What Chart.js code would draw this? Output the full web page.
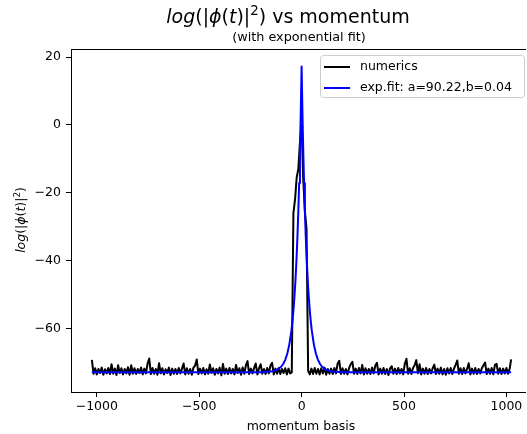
<!DOCTYPE html>
<html>
<head>
<meta charset="utf-8">
<script src="https://cdn.jsdelivr.net/npm/chart.js@4.4.1/dist/chart.umd.min.js"></script>
<style>
  html, body { margin: 0; padding: 0; background: #fff; overflow: hidden; }
  #clip { position: relative; width: 526px; height: 434px; overflow: hidden; }
  #wrap { position: absolute; left: 0; top: 0; width: 540px; height: 434px; }
</style>
</head>
<body>
<div id="clip"><div id="wrap"><canvas id="momentumChart"></canvas></div></div>
<script>
// numerics sampled every 8 momentum units from -1024, last point at 1023
const numericsY = [
  -69.3, -73.4, -71.8, -73.6, -72.0, -73.2, -71.6, -73.7, -72.1, -73.3,
  -71.7, -73.5, -70.6, -73.4, -71.9, -73.8, -70.9, -73.2, -71.8, -73.6,
  -72.0, -73.3, -71.5, -73.7, -70.9, -73.4, -71.8, -73.5, -72.0, -73.2,
  -71.6, -73.6, -71.9, -73.3, -70.4, -68.9, -73.5, -71.7, -73.4, -72.0,
  -73.7, -70.3, -73.3, -71.8, -73.6, -72.1, -73.2, -71.6, -73.8, -71.9,
  -73.4, -72.0, -73.5, -71.7, -73.3, -71.9, -70.4, -73.6, -71.8, -73.4,
  -72.0, -73.7, -71.6, -71.0, -69.2, -73.5, -71.9, -73.3, -71.7, -73.6,
  -72.1, -73.4, -70.7, -73.2, -71.8, -73.7, -72.0, -73.3, -71.6, -73.9,
  -70.5, -73.4, -71.9, -73.5, -71.7, -73.3, -72.0, -73.6, -70.8, -73.2,
  -71.8, -73.7, -71.6, -73.4, -70.9, -69.7, -73.5, -71.9, -73.3, -71.7,
  -70.4, -73.6, -71.8, -70.6, -73.4, -72.0, -73.5, -71.7, -73.3, -71.0,
  -70.2, -73.6, -71.9, -73.4, -71.7, -73.5, -72.0, -73.2, -71.8, -73.6,
  -71.9, -73.3, -73.0, -26.0, -22.0, -15.5, -13.0, -5.0, 0.0, -16.0,
  -25.5, -30.5, -72.6, -73.6, -71.9, -73.5, -71.7, -73.4, -72.0, -73.6,
  -71.8, -73.3, -71.6, -73.7, -72.0, -73.4, -71.9, -73.5, -71.7, -73.3,
  -70.4, -69.6, -73.5, -71.8, -73.4, -72.0, -73.6, -71.7, -70.6, -69.9,
  -73.4, -71.9, -73.5, -71.7, -73.3, -70.8, -73.6, -71.8, -73.4, -72.0,
  -73.5, -71.6, -73.3, -71.0, -70.2, -73.6, -71.9, -73.4, -71.7, -73.5,
  -72.0, -73.8, -71.8, -71.2, -73.4, -71.9, -73.5, -71.7, -73.3, -72.0,
  -73.6, -70.5, -69.0, -73.4, -71.8, -73.5, -71.7, -70.9, -69.4, -73.3,
  -70.6, -73.6, -71.9, -73.4, -71.7, -73.5, -72.0, -73.3, -71.8, -70.7,
  -73.5, -71.9, -73.4, -71.6, -73.6, -72.0, -73.7, -71.8, -73.3, -71.7,
  -73.5, -71.9, -70.8, -69.5, -73.4, -71.8, -73.5, -71.7, -73.3, -72.0,
  -70.3, -73.6, -71.9, -73.4, -71.7, -73.5, -72.0, -73.3, -71.8, -70.9,
  -70.1, -73.5, -71.9, -73.4, -71.7, -73.6, -70.8, -70.5, -73.4, -71.8,
  -73.5, -71.9, -73.3, -71.7, -73.4, -71.9,
  -69.2
];
const numericsX = numericsY.map((_, i) => (i < numericsY.length - 1 ? -1024 + 8 * i : 1023));

const fitX = [-1024, -200, -150, -120, -100, -90, -80, -70, -60, -50, -45, -40, -35, -30, -25, -20, -16, -12, -8, -4,
  0, 4, 8, 12, 16, 20, 25, 30, 35, 40, 45, 50, 60, 70, 80, 90, 100, 120, 150, 200, 1023];
const fitY = [-73.0, -72.97, -72.78, -72.26, -71.35, -70.53, -69.32, -67.52, -64.82, -60.79, -58.09, -54.78, -50.75, -45.83, -39.81, -32.46, -25.43, -17.17, -7.49, 3.88,
  17.22, 3.88, -7.49, -17.17, -25.43, -32.46, -39.81, -45.83, -50.75, -54.78, -58.09, -60.79, -64.82, -67.52, -69.32, -70.53, -71.35, -72.26, -72.78, -72.97, -73.0];

const xTicks = [-1000, -500, 0, 500, 1000];
const yTicks = [-60, -40, -20, 0, 20];
const seriesNames = ["numerics", "exp.fit: a=90.22,b=0.04"];

const FONT = '"DejaVu Sans", sans-serif';
const minus = (v) => String(v).replace("-", "\u2212");

function segFont(s, size) {
  const sz = s.sup ? size * 0.7 : size;
  return (s.it ? "italic " : "") + sz + "px " + FONT;
}

function drawRich(ctx, segs, cx, cy, size) {
  let w = 0;
  segs.forEach((s) => { ctx.font = segFont(s, size); s.w = ctx.measureText(s.t).width; w += s.w; });
  let x = cx - w / 2;
  ctx.textAlign = "left";
  ctx.textBaseline = "middle";
  segs.forEach((s) => {
    ctx.font = segFont(s, size);
    ctx.fillText(s.t, x, s.sup ? cy - size * 0.36 : cy);
    x += s.w;
  });
}

const phiSegs = () => [
  { t: "log", it: 1 }, { t: "(|" }, { t: "\u03d5", it: 1 }, { t: "(" }, { t: "t", it: 1 },
  { t: ")|" }, { t: "2", sup: 1 }, { t: ")" }
];

const decor = {
  id: "decor",
  afterDraw(chart) {
    const { ctx, chartArea: a } = chart;
    ctx.save();
    // top spine (right spine lies outside the window)
    ctx.strokeStyle = "#000";
    ctx.lineWidth = 1;
    ctx.beginPath();
    ctx.moveTo(a.left, Math.round(a.top) + 0.5);
    ctx.lineTo(a.right, Math.round(a.top) + 0.5);
    ctx.stroke();

    ctx.fillStyle = "#000";
    drawRich(ctx, phiSegs().concat([{ t: " vs momentum" }]), 288, 18, 19);
    drawRich(ctx, [{ t: "(with exponential fit)" }], 299, 38, 12.8);
    drawRich(ctx, [{ t: "momentum basis" }], 301, 427, 12.5);

    ctx.save();
    ctx.translate(22, 220);
    ctx.rotate(-Math.PI / 2);
    drawRich(ctx, phiSegs(), 0, 0, 12.5);
    ctx.restore();

    // legend box
    ctx.beginPath();
    ctx.roundRect(320.5, 55.5, 204, 42, 3);
    ctx.fillStyle = "rgba(255,255,255,0.8)";
    ctx.fill();
    ctx.strokeStyle = "#cccccc";
    ctx.stroke();
    const colors = ["#000000", "#0000ff"];
    const rows = [67, 88];
    ctx.lineWidth = 2;
    rows.forEach((ry, i) => {
      ctx.strokeStyle = colors[i];
      ctx.beginPath();
      ctx.moveTo(324, ry);
      ctx.lineTo(350, ry);
      ctx.stroke();
      ctx.fillStyle = "#000";
      ctx.font = "12.5px " + FONT;
      ctx.textAlign = "left";
      ctx.textBaseline = "middle";
      ctx.fillText(seriesNames[i], 360, ry);
    });
    ctx.restore();
  }
};

new Chart(document.getElementById("momentumChart"), {
  type: "line",
  data: {
    datasets: [
      {
        label: seriesNames[0],
        data: numericsX.map((x, i) => ({ x, y: numericsY[i] })),
        borderColor: "#000000",
        borderWidth: 2,
        pointRadius: 0,
        tension: 0,
        borderJoinStyle: "round",
        order: 2
      },
      {
        label: seriesNames[1],
        data: fitX.map((x, i) => ({ x, y: fitY[i] })),
        borderColor: "#0000ff",
        borderWidth: 2,
        pointRadius: 0,
        tension: 0,
        borderJoinStyle: "round",
        order: 1
      }
    ]
  },
  options: {
    responsive: true,
    maintainAspectRatio: false,
    animation: false,
    layout: { padding: { top: 49, right: 8, left: 0, bottom: 0 } },
    plugins: { legend: { display: false }, tooltip: { enabled: false } },
    scales: {
      x: {
        type: "linear",
        min: -1126,
        max: 1125,
        afterBuildTicks: (s) => { s.ticks = xTicks.map((v) => ({ value: v })); },
        afterFit: (s) => { s.height = 42; },
        ticks: { color: "#000", font: { family: FONT, size: 12.5 }, padding: 2, maxRotation: 0, callback: (v) => minus(v) },
        grid: { drawOnChartArea: false, tickLength: 5, color: "#000" },
        border: { color: "#000" }
      },
      y: {
        min: -78.8,
        max: 22.4,
        afterBuildTicks: (s) => { s.ticks = yTicks.map((v) => ({ value: v })); },
        afterFit: (s) => { s.width = 71; },
        ticks: { color: "#000", font: { family: FONT, size: 12.5 }, padding: 5, callback: (v) => minus(v) },
        grid: { drawOnChartArea: false, tickLength: 5, color: "#000" },
        border: { color: "#000" }
      }
    }
  },
  plugins: [decor]
});
</script>
</body>
</html>
